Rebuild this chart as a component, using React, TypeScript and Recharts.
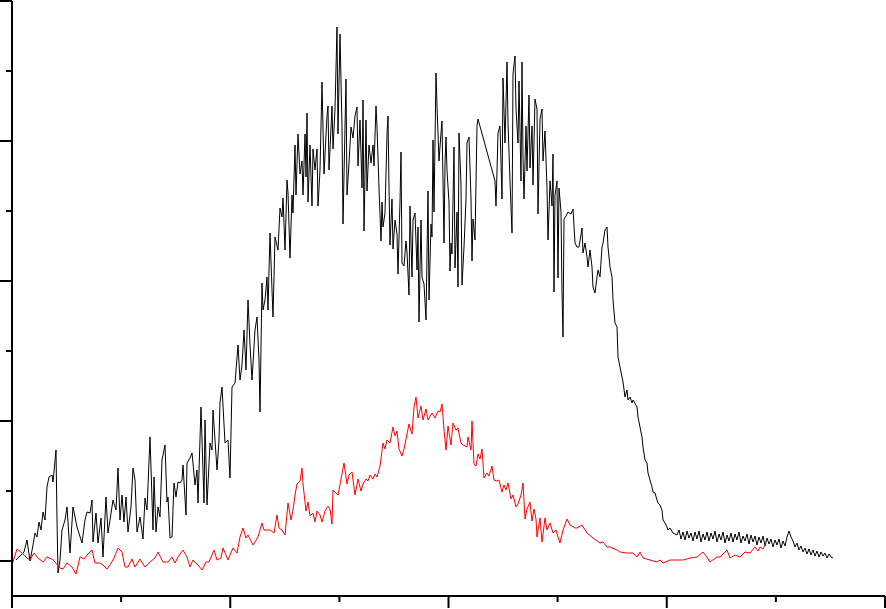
import React from "react";
import { LineChart, Line, XAxis, YAxis } from "recharts";

// Black trace: [channel, counts]
const blackTrace: [number, number][] = [
  [4,1],[8,5],[12,9],[15,21],[18,0],[21,16],[23,28],[25,24],[27,39],[29,31],[31,49],[33,41],[35,74],[37,84],[40,86],[41,79],[44,111],[45,41],[46,-12],[48,1],
  [50,31],[53,41],[55,54],[58,8],[61,54],[65,34],[70,18],[73,41],[75,49],[78,48],[80,61],[81,19],[84,48],[86,18],[89,43],[91,4],[94,64],[96,28],[98,41],
  [101,61],[104,51],[106,93],[108,41],[110,66],[112,39],[114,64],[116,29],[119,54],[121,93],[123,81],[125,29],[128,44],[131,22],[133,63],[135,51],[138,124],
  [141,31],[142,84],[144,29],[146,54],[148,44],[150,101],[153,116],[155,59],[156,64],[158,23],[160,24],[162,78],[164,64],[166,79],[168,78],[170,81],[171,96],
  [174,46],[175,98],[178,103],[180,108],[183,76],[185,91],[186,58],[189,154],[192,58],[193,141],[195,56],[198,118],[200,111],[201,151],[205,91],[207,121],
  [208,158],[210,174],[213,118],[216,121],[218,83],[220,174],[223,178],[226,216],[228,181],[230,196],[232,231],[234,191],[236,261],[238,216],[240,181],
  [243,231],[245,244],[247,201],[248,149],[250,278],[251,251],[253,261],[255,284],[256,251],[258,328],[260,271],[261,244],[263,324],[266,311],[268,353],
  [270,344],[271,363],[273,311],[275,381],[276,368],[278,303],[280,366],[281,348],[283,416],[284,366],[286,427],[288,387],[290,400],[291,366],[293,427],
  [294,384],[295,448],[296,359],[298,416],[300,355],[301,412],[303,391],[305,412],[306,355],[308,391],[310,479],[312,387],[315,445],[316,455],[317,391],
  [320,455],[321,412],[323,452],[325,534],[326,427],[328,527],[330,434],[331,337],[333,434],[334,482],[335,366],[337,398],[339,434],[341,423],[343,445],
  [345,454],[346,395],[348,441],[350,373],[351,461],[352,330],[354,441],[355,370],[357,416],[359,398],[361,416],[362,395],[364,455],[365,434],[367,373],
  [369,320],[370,359],[371,334],[373,348],[375,427],[376,445],[377,373],[378,316],[380,362],[381,312],[383,341],[385,327],[386,287],[388,359],[389,409],
  [390,298],[392,295],[394,320],[395,309],[397,266],[398,355],[400,284],[401,341],[403,348],[405,291],[406,334],[407,239],[409,341],[410,284],[412,277],
  [414,241],[416,370],[417,261],[419,337],[420,324],[421,421],[422,349],[424,488],[425,455],[427,400],[429,428],[430,440],[432,318],[433,397],[434,424],
  [435,390],[437,359],[438,290],[439,318],[440,307],[442,414],[443,293],[445,349],[446,274],[447,428],[449,376],[450,276],[452,314],[454,362],[455,418],
  [457,424],[459,362],[460,300],[461,342],[463,321],[465,435],[466,442],[483,380],[484,355],[485,390],[486,428],[488,435],[490,362],[491,483],[493,418],
  [495,499],[496,438],[498,380],[500,328],[501,487],[503,505],[504,452],[506,418],[507,480],[509,380],[510,499],[511,404],[512,362],[514,435],[515,390],
  [517,466],[518,393],[520,435],[521,376],[523,462],[525,452],[526,347],[528,442],[530,452],[531,400],[533,430],[535,373],[536,321],[538,380],[540,355],
  [541,407],[542,269],[543,366],[545,380],[546,283],[547,373],[549,349],[550,269],[551,224],[552,342],[554,345],[556,349],[559,347],[561,352],[563,318],
  [565,314],[567,314],[570,333],[571,308],[573,318],[575,304],[576,294],[578,311],[580,294],[581,274],[583,268],[585,284],[586,291],[588,284],[590,314],
  [591,318],[593,331],[595,334],[596,314],[598,294],[600,284],[601,261],[603,238],[605,234],[606,204],[608,194],[610,184],[611,179],[613,164],[615,171],
  [616,161],[618,164],[620,158],[621,161],[625,154],[626,144],[628,134],[630,124],[631,114],[633,101],[635,98],[636,88],[638,81],[640,74],[641,69],
  [643,68],[645,61],[646,58],[648,56],[650,51],[651,41],[653,38],[655,34],[656,31],[658,33],[661,28],[665,26],[667,31],[669,22],[671,29],[673,21],
  [675,30],[677,23],[679,28],[681,20],[683,29],[685,22],[687,30],[689,19],[691,27],[693,21],[695,29],[697,20],[699,28],[701,22],[703,30],[705,19],
  [707,27],[709,21],[711,29],[713,18],[715,26],[717,20],[719,28],[721,19],[723,27],[725,21],[727,29],[729,18],[731,25],[733,20],[735,27],[737,17],
  [739,26],[741,19],[743,25],[745,16],[747,24],[749,18],[751,25],[753,15],[755,23],[757,17],[759,22],[761,14],[763,21],[765,16],[767,22],[769,13],
  [771,20],[773,15],[775,24],[777,30],[779,24],[781,20],[783,14],[785,18],[787,11],[789,15],[791,9],[793,13],[795,7],[797,12],[799,6],[801,11],
  [803,5],[805,10],[807,4],[809,9],[811,5],[813,8],[815,3],[817,7],[819,4],[821,3],
];

// Red trace: [channel, counts]
const redTrace: [number, number][] = [
  [0,-4],[5,12],[10,8],[15,3],[18,1],[22,8],[26,3],[31,-1],[35,4],[40,2],[43,-1],[48,-7],[51,-8],[55,-2],[60,-6],[64,-13],[68,4],[72,2],[75,6],[80,11],
  [83,-2],[88,-2],[91,-4],[95,-8],[98,-4],[102,3],[106,13],[110,9],[113,-6],[116,-6],[120,2],[123,-6],[128,2],[133,-6],[138,-1],[143,3],[146,9],[151,-1],
  [156,-1],[160,4],[163,-2],[166,4],[171,11],[175,4],[178,-6],[181,1],[186,-4],[190,-9],[194,-1],[197,-1],[202,11],[205,1],[209,3],[211,13],[216,1],
  [221,13],[225,8],[228,24],[231,33],[234,23],[236,26],[241,16],[246,24],[250,38],[252,31],[258,31],[262,28],[265,46],[267,33],[270,31],[273,26],[276,58],
  [279,41],[281,51],[283,66],[285,77],[288,80],[290,93],[291,77],[294,50],[296,59],[298,45],[301,48],[303,39],[305,50],[308,46],[310,39],[313,50],[316,55],
  [318,52],[320,37],[321,71],[324,68],[326,66],[330,87],[332,98],[335,77],[337,86],[340,89],[343,66],[346,82],[349,70],[351,77],[354,82],[356,80],[358,86],
  [361,82],[363,87],[365,84],[368,95],[371,118],[373,112],[375,121],[378,118],[381,134],[383,125],[385,130],[387,112],[390,105],[392,112],[395,127],
  [397,137],[400,127],[402,154],[404,164],[406,143],[409,155],[411,141],[414,152],[416,141],[420,148],[423,143],[426,150],[428,149],[430,157],[432,131],
  [434,111],[436,135],[439,116],[441,138],[444,131],[446,133],[449,118],[451,116],[455,114],[456,124],[459,111],[460,140],[462,97],[464,95],[466,107],
  [468,102],[470,112],[472,83],[475,88],[477,85],[480,95],[482,81],[485,80],[487,81],[490,69],[492,76],[494,71],[496,78],[499,62],[501,66],[504,54],
  [506,57],[509,66],[511,78],[513,42],[515,52],[518,59],[520,40],[522,52],[524,42],[525,24],[528,43],[530,19],[533,43],[535,31],[538,38],[541,28],
  [544,31],[546,24],[548,18],[551,31],[555,42],[558,36],[563,33],[565,33],[570,36],[575,28],[581,23],[588,18],[591,19],[595,14],[598,14],[605,11],
  [608,9],[615,8],[621,8],[625,4],[628,9],[631,3],[638,1],[645,-1],[648,1],[651,-2],[658,1],[665,1],[671,1],[678,3],[685,4],[691,9],[695,4],[698,-1],
  [705,4],[708,4],[715,11],[718,3],[723,6],[728,4],[733,9],[738,8],[743,14],[746,10],[748,14],[751,12],[754,18],
];

const xTicks = [0, 109.125, 218.25, 327.375, 436.5, 545.625, 654.75, 763.875, 873];
const yTicks = [0, 70, 140, 210, 280, 350, 420, 490, 560];

const blackData = blackTrace.map(([x, y]) => ({ x, y }));
const redData = redTrace.map(([x, y]) => ({ x, y }));

const XTickMark = (props: any) => {
  const { x, y, payload, index } = props;
  const i = typeof index === "number" ? index : Math.round(payload.value / 109.125);
  const len = i % 2 === 0 ? 12 : 6;
  return <line x1={x} y1={y} x2={x} y2={y + len} stroke="#000" strokeWidth={2} />;
};

const YTickMark = (props: any) => {
  const { x, y, payload } = props;
  const len = Math.round(payload.value) % 140 === 0 ? 12 : 6;
  return <line x1={x - len} y1={y} x2={x} y2={y} stroke="#000" strokeWidth={2} />;
};

export default function App() {
  return (
    <div style={{ position: "absolute", left: 0, top: 0, width: 886, height: 609, background: "#fff" }}>
      <LineChart width={886} height={609} margin={{ top: 1, right: 1, bottom: 1, left: 0 }}>
        <XAxis
          type="number"
          dataKey="x"
          domain={[0, 873]}
          ticks={xTicks}
          interval={0}
          height={12}
          tickSize={0}
          tickMargin={0}
          tickLine={false}
          axisLine={{ stroke: "#000", strokeWidth: 2 }}
          tick={<XTickMark />}
          allowDataOverflow
        />
        <YAxis
          type="number"
          dataKey="y"
          domain={[-35, 560]}
          ticks={yTicks}
          interval={0}
          width={12}
          tickSize={0}
          tickMargin={0}
          tickLine={false}
          axisLine={{ stroke: "#000", strokeWidth: 2 }}
          tick={<YTickMark />}
          allowDataOverflow
        />
        <Line
          data={blackData}
          dataKey="y"
          type="linear"
          stroke="#000000"
          strokeWidth={1}
          dot={false}
          activeDot={false}
          isAnimationActive={false}
        />
        <Line
          data={redData}
          dataKey="y"
          type="linear"
          stroke="#ff0000"
          strokeWidth={1}
          dot={false}
          activeDot={false}
          isAnimationActive={false}
        />
      </LineChart>
    </div>
  );
}
